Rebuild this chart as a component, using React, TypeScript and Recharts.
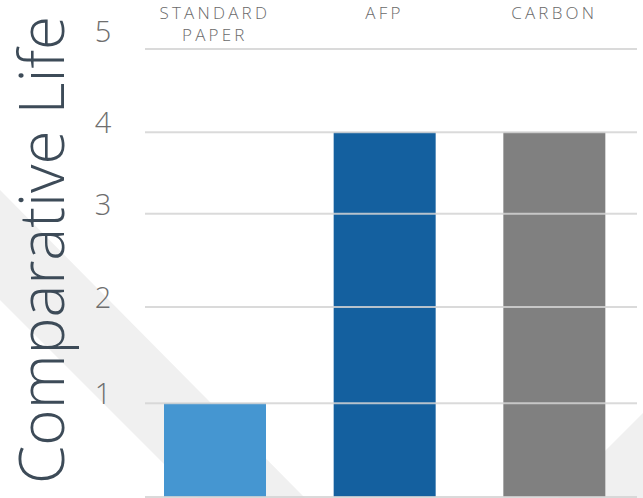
import React from 'react';
import { BarChart, Bar, XAxis, YAxis, Cell, ReferenceLine } from 'recharts';

const categories = ['STANDARD PAPER', 'AFP', 'CARBON'];
const lifeValues = [1, 4, 4];
const barColors = ['#4596d1', '#14609f', '#808080'];
const yTicks = [1, 2, 3, 4, 5];
const gridValues = [0, 1, 2, 3, 4, 5];
// the source axis is not evenly spaced: share of the axis height at each whole value
const axisKnots = [0, 1, 2, 3, 4, 5];
const axisShares = [0, 0.209, 0.424, 0.632, 0.814, 1];

const data = categories.map((c, i) => ({ name: c, life: lifeValues[i] }));

function piecewiseScale(knots: number[], shares: number[]): any {
  let dom: number[] = [knots[0], knots[knots.length - 1]];
  let rng: number[] = [0, 1];
  const s: any = (v: number) => {
    const n = knots.length;
    let i = 0;
    while (i < n - 2 && v > knots[i + 1]) i++;
    const t = (v - knots[i]) / (knots[i + 1] - knots[i]);
    const f = shares[i] + t * (shares[i + 1] - shares[i]);
    return rng[0] + f * (rng[rng.length - 1] - rng[0]);
  };
  s.domain = (d?: number[]) => {
    if (d === undefined) return dom.slice();
    dom = d.slice();
    return s;
  };
  s.range = (r?: number[]) => {
    if (r === undefined) return rng.slice();
    rng = r.slice();
    return s;
  };
  s.copy = () => {
    const c = piecewiseScale(knots, shares);
    c.domain(dom);
    c.range(rng);
    return c;
  };
  s.ticks = () => knots.slice();
  s.tickFormat = () => (v: number) => String(v);
  s.nice = () => s;
  s.clamp = () => s;
  s.invert = (px: number) => {
    const f = (px - rng[0]) / (rng[rng.length - 1] - rng[0]);
    let i = 0;
    while (i < shares.length - 2 && f > shares[i + 1]) i++;
    const t = (f - shares[i]) / (shares[i + 1] - shares[i]);
    return knots[i] + t * (knots[i + 1] - knots[i]);
  };
  return s;
}

const yScale = piecewiseScale(axisKnots, axisShares);

const FONT = '"Open Sans", "Noto Sans", sans-serif';

const YTick = (props: any) => {
  const { y, payload } = props;
  const top = payload.value === yTicks[yTicks.length - 1];
  return (
    <text
      x={103}
      y={top ? y - 7 : y + 1}
      textAnchor="middle"
      fontFamily={FONT}
      fontWeight={300}
      fontSize={29}
      fill="#6e6e6e"
    >
      {payload.value}
    </text>
  );
};

const XTick = (props: any) => {
  const { x, payload } = props;
  const lines = String(payload.value).split(' ');
  return (
    <g>
      {lines.map((ln, i) => (
        <text
          key={i}
          x={x}
          y={19 + i * 22}
          textAnchor="middle"
          fontFamily={FONT}
          fontWeight={300}
          fontSize={17}
          letterSpacing={3.2}
          fill="#6a6a6a"
        >
          {ln}
        </text>
      ))}
    </g>
  );
};

const YLabel = () => (
  <text
    x={64}
    y={250}
    transform="rotate(-90, 64, 250)"
    textAnchor="middle"
    fontFamily={FONT}
    fontWeight={300}
    fontSize={62}
    fill="#3d4b58"
  >
    Comparative Life
  </text>
);

export default function App() {
  return (
    <div style={{ position: 'absolute', left: 0, top: 0, width: 643, height: 498, background: '#ffffff' }}>
      <svg width={643} height={498} style={{ position: 'absolute', left: 0, top: 0 }}>
        <polygon points="0,190 305,498 198,498 0,300" fill="#f0f0f0" />
        <polygon points="643,413 643,498 558,498" fill="#f0f0f0" />
      </svg>
      <div style={{ position: 'absolute', left: 0, top: 0 }}>
        <BarChart
          width={643}
          height={498}
          data={data}
          margin={{ top: 0, right: 6, bottom: 1, left: 0 }}
        >
          <XAxis
            dataKey="name"
            orientation="top"
            height={49}
            axisLine={false}
            tickLine={false}
            interval={0}
            padding={{ left: -15, right: -2 }}
            tick={<XTick />}
          />
          <YAxis
            type="number"
            domain={[0, 5]}
            ticks={yTicks}
            scale={yScale}
            width={145}
            axisLine={false}
            tickLine={false}
            tick={<YTick />}
            label={<YLabel />}
          />
          <Bar dataKey="life" barSize={102} isAnimationActive={false}>
            {data.map((d, i) => (
              <Cell key={d.name} fill={barColors[i]} />
            ))}
          </Bar>
          {gridValues.map((v) => (
            <ReferenceLine key={v} y={v} stroke="#d4d4d4" strokeOpacity={0.85} strokeWidth={2} />
          ))}
        </BarChart>
      </div>
    </div>
  );
}
